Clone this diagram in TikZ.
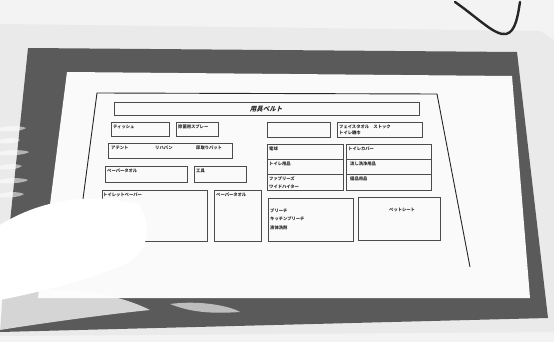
\documentclass[tikz,border=0pt]{standalone}
\usepackage{fontspec}
\newfontfamily\jp{Noto Sans CJK JP}
\usetikzlibrary{positioning}

\definecolor{bgwhite}{RGB}{243,243,243}
\definecolor{sheetgray}{RGB}{234,234,234}
\definecolor{matgray}{RGB}{90,90,90}
\definecolor{paperwhite}{RGB}{250,250,250}
\definecolor{linegray}{RGB}{75,75,75}

\tikzstyle{box} = [draw=linegray, line width=0.6pt, rectangle, anchor=north west, inner sep=0pt]
\tikzstyle{lbl} = [anchor=north west, inner sep=0pt, text=black!85, font=\jp\bfseries\fontsize{4.3}{6}\selectfont]
\tikzstyle{glare} = [fill=white, draw=none]

\begin{document}
\begin{tikzpicture}[x=1pt, y=-1pt]
  \useasboundingbox (0,0) rectangle (554,342);
  \fill[bgwhite] (0,0) rectangle (554,342);

  % laminate sheet and mat
  \fill[sheetgray] (0,24) -- (540,31) -- (554,40) -- (554,332) -- (0,336) -- cycle;
  \fill[matgray] (28,48) -- (517,52) -- (548,318) -- (0,332) -- (3,290) -- cycle;
  \fill[paperwhite] (67,72) -- (512,76) -- (530,298) -- (38,298) -- cycle;

  % cord
  \draw[line width=2.4pt, black!85, line cap=round] (455,2) .. controls (478,18) and (495,36) .. (506,34) .. controls (516,32) and (518,14) .. (520,2);

  % page frame
  \draw[line width=0.9pt, black!85] (74,267) -- (97,93) -- (437,94) -- (470,267);

  \node [box, minimum width=305pt, minimum height=13pt] (title) at (114,102) {};
  \node [font=\jp\bfseries\fontsize{6.5}{8}\selectfont, text=black!85, xslant=0.25] (titleT) at (title.center) {用具ベルト};

  \node [box, minimum width=58pt, minimum height=14pt] (tissue) at (111,122) {};
  \node [box, minimum width=42pt, minimum height=14pt] (spray) at (176,122) {};
  \node [box, minimum width=63pt, minimum height=15pt] (empty) at (267,122) {};
  \node [box, minimum width=85pt, minimum height=15pt] (towel) at (337,122) {};
  \node [lbl] (tissueT) at ([xshift=2pt,yshift=-3pt]tissue.north west) {ティッシュ};
  \node [lbl] (sprayT) at ([xshift=2pt,yshift=-3pt]spray.north west) {除菌用スプレー};
  \node [lbl] (towelT) at ([xshift=2pt,yshift=-2.5pt]towel.north west) {フェイスタオル\quad ストック};
  \node [lbl] (ragT) at ([xshift=2pt,yshift=-9pt]towel.north west) {トイレ雑巾};

  \node [box, minimum width=124pt, minimum height=15pt] (diaper) at (108,143) {};
  \node [lbl] (attentT) at ([xshift=3pt,yshift=-3pt]diaper.north west) {アテント};
  \node [lbl] (rehaT) at ([xshift=47pt,yshift=-3pt]diaper.north west) {リハパン};
  \node [lbl] (padT) at ([xshift=88pt,yshift=-3pt]diaper.north west) {尿取りパット};

  \node [box, minimum width=82pt, minimum height=16pt] (paper1) at (105,166) {};
  \node [box, minimum width=52pt, minimum height=16pt] (tools) at (194,166) {};
  \node [lbl] (paper1T) at ([xshift=2pt,yshift=-3pt]paper1.north west) {ペーパータオル};
  \node [lbl] (toolsT) at ([xshift=2pt,yshift=-3pt]tools.north west) {工具};

  \node [box, minimum width=105pt, minimum height=51pt] (roll) at (102,190) {};
  \node [box, minimum width=47pt, minimum height=51pt] (paper2) at (214,190) {};
  \node [lbl] (rollT) at ([xshift=1pt,yshift=-3pt]roll.north west) {トイレットペーパー};
  \node [lbl] (paper2T) at ([xshift=2pt,yshift=-3pt]paper2.north west) {ペーパータオル};

  % grid on the right
  \node [box, minimum width=76pt, minimum height=15pt] (bulb) at (267,144) {};
  \node [box, minimum width=76pt, minimum height=15pt] (toiletgoods) at (267,159) {};
  \node [box, minimum width=76pt, minimum height=16pt] (febreze) at (267,174) {};
  \node [box, minimum width=85pt, minimum height=15pt] (cover) at (346,144) {};
  \node [box, minimum width=85pt, minimum height=15pt] (sink) at (346,159) {};
  \node [box, minimum width=85pt, minimum height=16pt] (stock) at (346,174) {};
  \node [lbl] (bulbT) at ([xshift=2pt,yshift=-3pt]bulb.north west) {電球};
  \node [lbl] (toiletgoodsT) at ([xshift=2pt,yshift=-3pt]toiletgoods.north west) {トイレ用品};
  \node [lbl] (febrezeT) at ([xshift=2pt,yshift=-3pt]febreze.north west) {ファブリーズ};
  \node [lbl] (haiterT) at ([xshift=2pt,yshift=-10.5pt]febreze.north west) {ワイドハイター};
  \node [lbl] (coverT) at ([xshift=2pt,yshift=-3pt]cover.north west) {トイレカバー};
  \node [lbl] (sinkT) at ([xshift=4pt,yshift=-3pt]sink.north west) {流し洗浄用品};
  \node [lbl] (stockT) at ([xshift=4pt,yshift=-3pt]stock.north west) {備品用品};

  \node [box, minimum width=85pt, minimum height=43pt] (bleach) at (268,198) {};
  \node [box, minimum width=82pt, minimum height=43pt] (pet) at (358,197) {};
  \node [lbl] (bleachT) at ([xshift=2pt,yshift=-11pt]bleach.north west) {ブリーチ};
  \node [lbl] (kitchenT) at ([xshift=2pt,yshift=-19pt]bleach.north west) {キッチンブリーチ};
  \node [lbl] (detergentT) at ([xshift=2pt,yshift=-28pt]bleach.north west) {液体洗剤};
  \node [lbl] (petT) at ([xshift=31pt,yshift=-11pt]pet.north west) {ペットシート};

  % glare on the laminate
  \fill[glare] (0,225) .. controls (40,200) and (90,192) .. (138,204) .. controls (152,222) and (150,248) .. (130,262) .. controls (90,280) and (40,292) .. (0,300) -- cycle;
  \fill[glare, opacity=0.75] (0,296) .. controls (50,284) and (110,290) .. (150,310) .. controls (110,314) and (50,322) .. (0,330) -- cycle;
  \fill[glare, opacity=0.6] (170,304) .. controls (200,300) and (230,306) .. (240,312) .. controls (210,314) and (190,312) .. (170,304) -- cycle;
  \foreach \y/\len in {128/22, 140/16, 152/25, 166/18, 180/24, 194/20} {
    \fill[glare, opacity=0.55] (0,\y) .. controls (10,\y-3) and (\len,\y-2) .. (\len+4,\y) .. controls (\len,\y+3) and (10,\y+4) .. (0,\y+3) -- cycle;
  }
\end{tikzpicture}
\end{document}
